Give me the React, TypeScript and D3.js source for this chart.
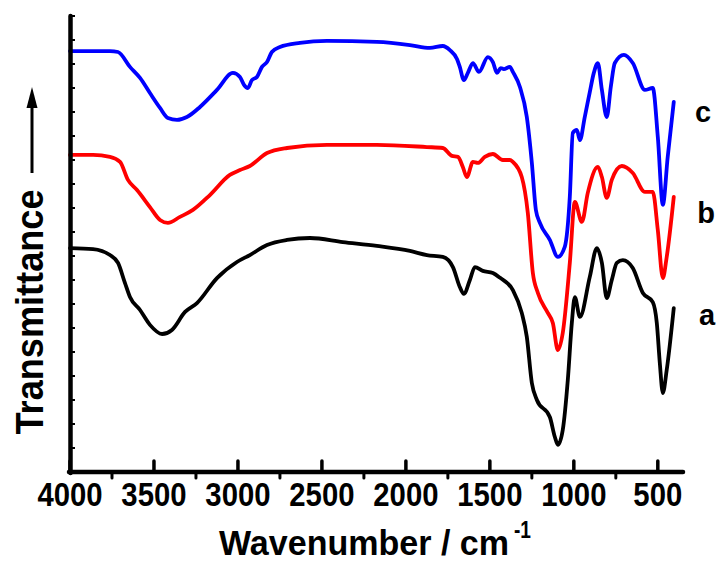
import React from "react";
import * as d3 from "d3";

// x: wavenumber (cm-1), y: transmittance (arbitrary, offset units)
const seriesA: [number, number][] = [
  [4000, 9.33], [3863, 9.29], [3762, 9.04], [3714, 8.71], [3673, 7.88], [3643, 7.29],
  [3583, 6.75], [3524, 6.13], [3452, 5.75], [3393, 5.92], [3315, 6.67], [3244, 7.04],
  [3125, 8.08], [3006, 8.75], [2929, 9.04], [2827, 9.46], [2708, 9.67], [2571, 9.75],
  [2375, 9.58], [2173, 9.42], [1976, 9.21], [1875, 9.04], [1780, 8.96], [1720, 8.54],
  [1679, 7.71], [1655, 7.42], [1619, 8.0], [1589, 8.54], [1542, 8.38], [1482, 8.29],
  [1441, 8.1], [1363, 7.58], [1310, 6.63], [1280, 5.63], [1250, 3.71], [1220, 3.0],
  [1143, 2.29], [1113, 1.46], [1095, 1.13], [1066, 1.75], [1036, 3.83], [1012, 6.21],
  [994, 7.29], [964, 6.46], [905, 8.13], [863, 9.33], [833, 8.71], [804, 7.25],
  [774, 8.0], [744, 8.71], [708, 8.83], [649, 8.5], [589, 7.46], [530, 7.08],
  [506, 6.21], [488, 4.54], [470, 3.29], [447, 4.25], [405, 6.83],
];

const seriesB: [number, number][] = [
  [4000, 13.21], [3863, 13.21], [3762, 13.13], [3702, 12.92], [3655, 12.17], [3601, 11.75],
  [3524, 11.04], [3464, 10.5], [3417, 10.38], [3345, 10.63], [3268, 10.92], [3167, 11.54],
  [3048, 12.38], [2988, 12.58], [2929, 12.75], [2827, 13.29], [2708, 13.5], [2470, 13.63],
  [2173, 13.63], [1875, 13.54], [1780, 13.5], [1726, 13.17], [1690, 13.13], [1661, 12.71],
  [1637, 12.29], [1601, 12.92], [1571, 12.88], [1530, 13.13], [1482, 13.25], [1423, 13.0],
  [1381, 13.0], [1363, 12.92], [1310, 12.29], [1274, 10.79], [1244, 8.29], [1214, 7.46],
  [1155, 6.63], [1125, 6.21], [1095, 5.08], [1066, 5.79], [1024, 8.71], [994, 11.25],
  [952, 10.42], [917, 11.63], [857, 12.71], [833, 12.29], [804, 11.42], [774, 12.17],
  [714, 12.75], [649, 12.46], [577, 11.67], [530, 11.67], [500, 10.08], [470, 8.08],
  [447, 8.96], [405, 11.46],
];

const seriesC: [number, number][] = [
  [4000, 17.54], [3762, 17.54], [3714, 17.5], [3643, 16.88], [3583, 16.42], [3524, 15.79],
  [3464, 15.17], [3417, 14.75], [3363, 14.67], [3304, 14.79], [3226, 15.21], [3125, 15.92],
  [3030, 16.63], [2988, 16.46], [2964, 16.13], [2941, 16.0], [2917, 16.33], [2887, 16.46],
  [2857, 16.88], [2827, 17.08], [2798, 17.5], [2750, 17.71], [2631, 17.88], [2470, 17.96],
  [2173, 17.92], [1976, 17.79], [1857, 17.67], [1780, 17.75], [1738, 17.58], [1696, 17.21],
  [1679, 16.88], [1655, 16.33], [1631, 16.63], [1601, 17.04], [1565, 16.67], [1512, 17.29],
  [1482, 17.08], [1458, 16.63], [1435, 16.83], [1417, 16.79], [1381, 16.88], [1363, 16.67],
  [1321, 16.04], [1280, 14.79], [1250, 12.88], [1226, 10.92], [1202, 10.38], [1143, 9.67],
  [1095, 8.96], [1054, 9.38], [1024, 11.46], [1006, 14.13], [982, 14.25], [964, 13.83],
  [935, 14.79], [905, 15.83], [881, 16.63], [857, 17.04], [833, 15.92], [804, 14.79],
  [780, 16.04], [756, 17.04], [702, 17.38], [649, 17.04], [577, 15.92], [530, 16.0],
  [500, 13.96], [470, 11.13], [441, 13.13], [405, 15.42],
];

const SERIES = [
  { id: "a", data: seriesA, color: "#000000" },
  { id: "b", data: seriesB, color: "#ff0000" },
  { id: "c", data: seriesC, color: "#0000ff" },
];
const SERIES_LABELS = ["a", "b", "c"];
const LABEL_Y = [6.13, 10.38, 14.58];

const X_TICKS = [4000, 3500, 3000, 2500, 2000, 1500, 1000, 500];
const X_MINOR = [3750, 3250, 2750, 2250, 1750, 1250, 750];
const Y_TICKS = d3.range(0, 20);

const X_TITLE = "Wavenumber / cm";
const X_TITLE_SUP = "-1";
const Y_TITLE = "Transmittance";

export default function App() {
  const x = d3.scaleLinear().domain([4000, 350]).range([70, 683]);
  const y = d3.scaleLinear().domain([0, 19]).range([472, 16]);
  const line = d3
    .line<[number, number]>()
    .x((d) => x(d[0]))
    .y((d) => y(d[1]))
    .curve(d3.curveMonotoneX);
  const font = "'Liberation Sans', Arial, sans-serif";

  return (
    <svg
      width={720}
      height={563}
      style={{ position: "absolute", left: 0, top: 0, background: "#fff" }}
      fontFamily={font}
      fontWeight="bold"
    >
      {SERIES.map((s) => (
        <path
          key={s.id}
          d={line(s.data) || ""}
          fill="none"
          stroke={s.color}
          strokeWidth={3.8}
          strokeLinejoin="round"
          strokeLinecap="round"
        />
      ))}
      {/* y ticks */}
      {Y_TICKS.map((t) => (
        <line key={"yt" + t} x1={70} x2={75} y1={y(t)} y2={y(t)} stroke="#000" strokeWidth={2} />
      ))}
      {/* x major ticks */}
      {X_TICKS.map((t) => (
        <line key={"xt" + t} x1={x(t)} x2={x(t)} y1={472} y2={461} stroke="#000" strokeWidth={3.5} strokeLinecap="round" />
      ))}
      {X_MINOR.map((t) => (
        <line key={"xm" + t} x1={x(t)} x2={x(t)} y1={472} y2={478} stroke="#000" strokeWidth={3} strokeLinecap="round" />
      ))}
      {/* axes */}
      <line x1={70.5} x2={70.5} y1={16} y2={473} stroke="#000" strokeWidth={4.5} strokeLinecap="round" />
      <line x1={69} x2={683} y1={472} y2={472} stroke="#000" strokeWidth={4.5} strokeLinecap="round" />
      {/* x tick labels */}
      {X_TICKS.map((t) => {
        const s = String(t);
        return (
          <text
            key={"xl" + t}
            x={x(t)}
            y={506}
            fontSize={33}
            textAnchor="middle"
            textLength={s.length * 16.3}
            lengthAdjust="spacingAndGlyphs"
          >
            {s}
          </text>
        );
      })}
      {/* x title with superscript */}
      <text fontSize={35}>
        <tspan x={219} y={555} textLength={290} lengthAdjust="spacingAndGlyphs">
          {X_TITLE}
        </tspan>
        <tspan x={514} y={538} fontSize={23} textLength={17} lengthAdjust="spacingAndGlyphs">
          {X_TITLE_SUP}
        </tspan>
      </text>
      {/* y title */}
      <text
        transform="translate(43,312) rotate(-90)"
        fontSize={38}
        textAnchor="middle"
        textLength={245}
        lengthAdjust="spacingAndGlyphs"
      >
        {Y_TITLE}
      </text>
      {/* arrow */}
      <line x1={32} x2={32} y1={173} y2={102} stroke="#000" strokeWidth={3} />
      <path d="M32,87 L26.5,108 L37.5,108 Z" fill="#000" />
      {/* series labels */}
      {SERIES_LABELS.map((l, i) => (
        <text key={"sl" + l} x={[707, 706, 703][i]} y={y(LABEL_Y[i])} fontSize={29} textAnchor="middle">
          {l}
        </text>
      ))}
    </svg>
  );
}
